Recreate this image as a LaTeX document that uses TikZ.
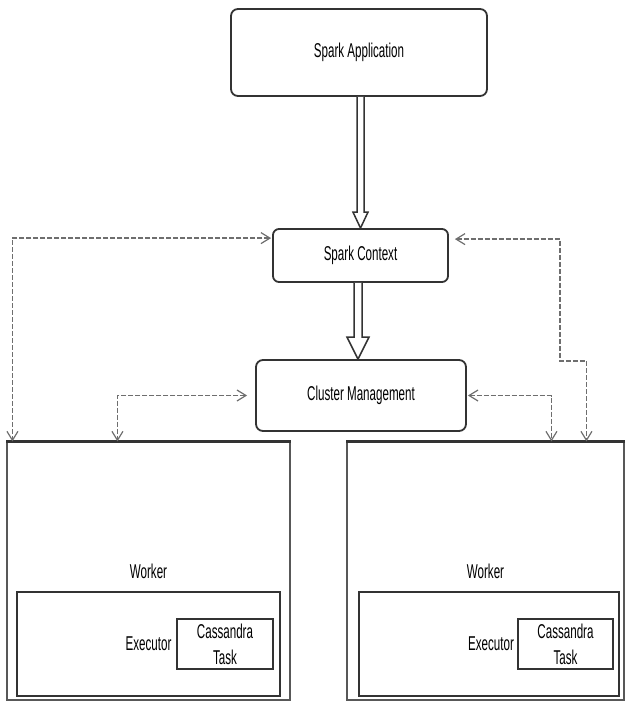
\documentclass[tikz,border=0pt]{standalone}
\usepackage{fontspec}
\setmainfont{Liberation Sans}[FakeStretch=0.58]
\usetikzlibrary{arrows.meta,calc}
\definecolor{boxline}{HTML}{333333}
\definecolor{dashline}{HTML}{6E6E6E}
\begin{document}
\begin{tikzpicture}[x=1pt,y=-1pt,
  txt/.style={font=\fontsize{20}{22}\selectfont},
  rbox/.style={draw=boxline,line width=1.8pt,rounded corners=7pt,inner sep=0pt,txt},
  sbox/.style={draw=boxline,line width=1.8pt,inner sep=0pt,txt},
  wbox/.style={draw=dashline!80!black,line width=1.1pt,inner sep=0pt,txt},
  darr/.style={draw=dashline,line width=1.8pt,dash pattern=on 5pt off 2pt,
    {Straight Barb[length=9pt,width=11pt,line width=1.2pt]}-{Straight Barb[length=9pt,width=11pt,line width=1.2pt]}},
  fat/.style={draw=boxline,line width=1.5pt,fill=white,line join=miter}
]
\useasboundingbox (0,0) rectangle (625,702);

% main nodes
\node[rbox,minimum width=256pt,minimum height=87pt] (app) at (359,52.5) {Spark Application};
\node[rbox,rounded corners=6pt,minimum width=175pt,minimum height=53pt] (ctx) at (360.5,255.5) {Spark Context};
\node[rbox,minimum width=210pt,minimum height=71pt] (cm) at (361,395.5) {Cluster Management};

% workers
\node[wbox,minimum width=283pt,minimum height=258pt] (wl) at (148.5,571) {\raisebox{-3pt}{Worker}};
\node[wbox,minimum width=277pt,minimum height=258pt] (wr) at (485.5,571) {\raisebox{-3pt}{Worker}};
\draw[boxline,line width=2.2pt] (wl.north west) -- (wl.north east);
\draw[boxline,line width=2.2pt] (wr.north west) -- (wr.north east);

% executors
\node[sbox,minimum width=263pt,minimum height=104pt] (el) at (148.5,644) {Executor};
\node[sbox,minimum width=260pt,minimum height=104pt] (er) at (489,644) {\hspace*{4pt}Executor};
\node[sbox,minimum width=96pt,minimum height=50pt,align=center,font=\fontsize{20}{26}\selectfont] (tl) at (225,644) {Cassandra\\Task};
\node[sbox,minimum width=95pt,minimum height=50pt,align=center,font=\fontsize{20}{26}\selectfont] (tr) at (565.5,644) {Cassandra\\Task};

% hollow arrows
\draw[fat] ($(ctx.north |- app.south)+(-3.5,0)$) -- ($(ctx.north)+(-3.5,-16)$)
  -- ($(ctx.north)+(-7.5,-16)$) -- (ctx.north) -- ($(ctx.north)+(7.5,-16)$)
  -- ($(ctx.north)+(3.5,-16)$) -- ($(ctx.north |- app.south)+(3.5,0)$);
\coordinate (cmtip) at ($(cm.north)+(-3,0)$);
\draw[fat] ($(cmtip |- ctx.south)+(-4,0)$) -- ($(cmtip)+(-4,-22)$)
  -- ($(cmtip)+(-11,-22)$) -- (cmtip) -- ($(cmtip)+(11,-22)$)
  -- ($(cmtip)+(4,-22)$) -- ($(cmtip |- ctx.south)+(4,0)$);

% dashed connectors
\draw[darr] ($(ctx.north west)+(-1,10)$) -| ($(wl.north west)+(6,0)$);
\draw[darr] ($(cm.west)+(-8,0)$) -| ($(wl.north west)+(111,0)$);
\draw[darr] ($(ctx.north east)+(6,11)$) -| (560,361) -| ($(wr.north west)+(240,0)$);
\draw[darr] ($(cm.east)+(1,0)$) -| ($(wr.north west)+(205,0)$);
\end{tikzpicture}
\end{document}
